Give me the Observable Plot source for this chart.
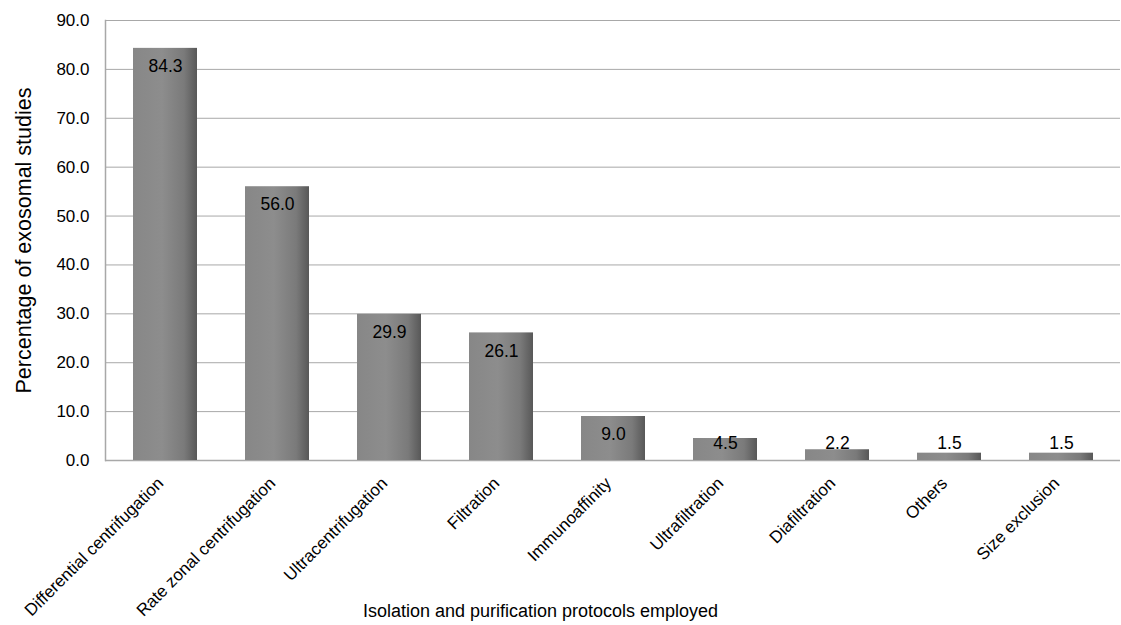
<!DOCTYPE html>
<html>
<head>
<meta charset="utf-8">
<script src="https://cdn.jsdelivr.net/npm/d3@7"></script>
<script src="https://cdn.jsdelivr.net/npm/@observablehq/plot@0.6"></script>
<style>
  html, body { margin: 0; padding: 0; background: #fff; }
  #chart svg { display: block; }
</style>
</head>
<body>
<div id="chart"></div>
<script>
const categories = [
  "Differential centrifugation",
  "Rate zonal centrifugation",
  "Ultracentrifugation",
  "Filtration",
  "Immunoaffinity",
  "Ultrafiltration",
  "Diafiltration",
  "Others",
  "Size exclusion"
];
const values = [84.3, 56.0, 29.9, 26.1, 9.0, 4.5, 2.2, 1.5, 1.5];
const yTicks = [0, 10, 20, 30, 40, 50, 60, 70, 80, 90];
const xTitle = "Isolation and purification protocols employed";
const yTitle = "Percentage of exosomal studies";

const data = categories.map((c, i) => ({category: c, value: values[i]}));
const fmt = d3.format(".1f");
const font = "'Liberation Sans', Arial, sans-serif";

const chart = Plot.plot({
  width: 1121,
  height: 625,
  marginLeft: 105,
  marginRight: 1,
  marginTop: 20,
  marginBottom: 165,
  style: {fontFamily: font, fontSize: "17px", color: "#000", background: "#fff"},
  x: {domain: categories, paddingInner: 0.43, paddingOuter: 0.215},
  y: {domain: [0, 90]},
  marks: [
    () => {
      const svg = d3.create("svg:defs");
      const g = svg.append("linearGradient").attr("id", "barGrad")
        .attr("x1", "0").attr("x2", "1").attr("y1", "0").attr("y2", "0");
      g.append("stop").attr("offset", "0%").attr("stop-color", "#878787");
      g.append("stop").attr("offset", "45%").attr("stop-color", "#8d8d8d");
      g.append("stop").attr("offset", "80%").attr("stop-color", "#7a7a7a");
      g.append("stop").attr("offset", "100%").attr("stop-color", "#585858");
      return svg.node();
    },
    Plot.gridY(yTicks, {stroke: "#a8a8a8", strokeOpacity: 1, strokeWidth: 1}),
    Plot.ruleY([0], {stroke: "#a8a8a8", strokeWidth: 1.5}),
    Plot.barY(data, {x: "category", y: "value", fill: "url(#barGrad)"}),
    Plot.text(data.filter(d => d.value >= 5), {
      x: "category", y: "value", text: d => fmt(d.value), dy: 18,
      fontSize: 17.5, fill: "#000"
    }),
    Plot.text(data.filter(d => d.value < 5), {
      x: "category", y: () => 0, text: d => fmt(d.value), dy: -17,
      fontSize: 17.5, fill: "#000"
    }),
    Plot.axisX({
      tickRotate: -45, tickSize: 0, tickPadding: 18, dx: -5, dy: 2,
      label: xTitle, labelAnchor: "center", labelOffset: 156
    }),
    Plot.axisY({
      ticks: yTicks, tickFormat: fmt, tickSize: 0, tickPadding: 16,
      label: yTitle, labelAnchor: "center", labelArrow: "none", labelOffset: 90
    }),
    Plot.frame({anchor: "left", stroke: "#a8a8a8", strokeWidth: 1.5})
  ]
});

const s = d3.select(chart);
s.selectAll("g[aria-label='x-axis tick label'], g[aria-label='y-axis tick label']")
  .attr("font-size", 17).selectAll("text").style("font-size", "17px");
s.selectAll("g[aria-label='x-axis label']")
  .attr("font-size", 18).selectAll("text").style("font-size", "18px");
s.selectAll("g[aria-label='y-axis label']")
  .attr("font-size", 21.5).selectAll("text").style("font-size", "21.5px");
// the reference's x title sits left of the plot centre
s.selectAll("g[aria-label='x-axis label'] text").attr("transform", function() {
  const t = this.getAttribute("transform") || "";
  return t.replace(/translate\(([-\d.]+),([-\d.]+)\)/, (m, x, y) => `translate(540,${y})`);
});
document.getElementById("chart").appendChild(chart);
</script>
</body>
</html>
